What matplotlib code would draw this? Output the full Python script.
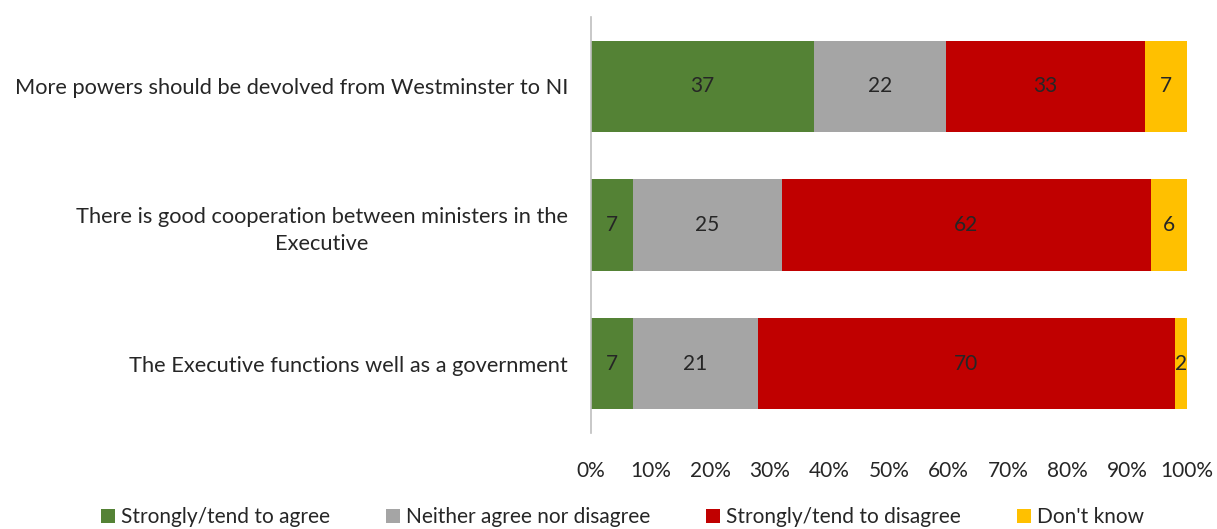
import numpy as np
import matplotlib.pyplot as plt

plt.rcParams['font.family'] = ['Lato', 'DejaVu Sans']

statements = ['More powers should be devolved from Westminster to NI',
              'There is good cooperation between ministers in the\nExecutive',
              'The Executive functions well as a government']
series = ['Strongly/tend to agree', 'Neither agree nor disagree',
          'Strongly/tend to disagree', "Don't know"]
agree = [37, 7, 7]
neither = [22, 25, 21]
disagree = [33, 62, 70]
dontknow = [7, 6, 2]
colors = ['#548235', '#A5A5A5', '#C00000', '#FFC000']

vals = np.array([agree, neither, disagree, dontknow], dtype=float)
pct = vals / vals.sum(axis=0) * 100

fig = plt.figure(figsize=(12.17, 5.29), dpi=100)
ax = fig.add_axes([591/1217, 1-433/529, 596/1217, 416/529])

y = np.arange(len(statements))
left = np.zeros(len(statements))
for i in range(len(series)):
    ax.barh(y, pct[i], left=left, height=0.66, color=colors[i], label=series[i])
    for j in range(len(statements)):
        ax.text(left[j] + pct[i][j]/2, y[j], '%d' % vals[i][j],
                ha='center', va='center', fontsize=15, color='#262626')
    left += pct[i]

ax.set_xlim(0, 100)
ax.set_ylim(2.5, -0.5)
ax.set_yticks(y)
ax.set_yticklabels(statements, fontsize=15.7, color='#262626',
                   multialignment='center', linespacing=1.45)
ax.set_xticks(np.arange(0, 101, 10))
ax.set_xticklabels(['%d%%' % v for v in range(0, 101, 10)], fontsize=15, color='#262626')
ax.tick_params(axis='both', length=0)
ax.tick_params(axis='y', pad=16.5)
ax.tick_params(axis='x', pad=20)
for s in ['top', 'right', 'bottom']:
    ax.spines[s].set_visible(False)
ax.spines['left'].set_color('#BFBFBF')
ax.spines['left'].set_linewidth(1.2)

fig.legend(loc='center', bbox_to_anchor=(0.5115, 1-517/529), ncol=4, frameon=False,
           fontsize=15, handlelength=0.65, handleheight=0.65, handletextpad=0.3,
           columnspacing=2.7, labelcolor='#262626')

fig.savefig('out.png', dpi=100)
